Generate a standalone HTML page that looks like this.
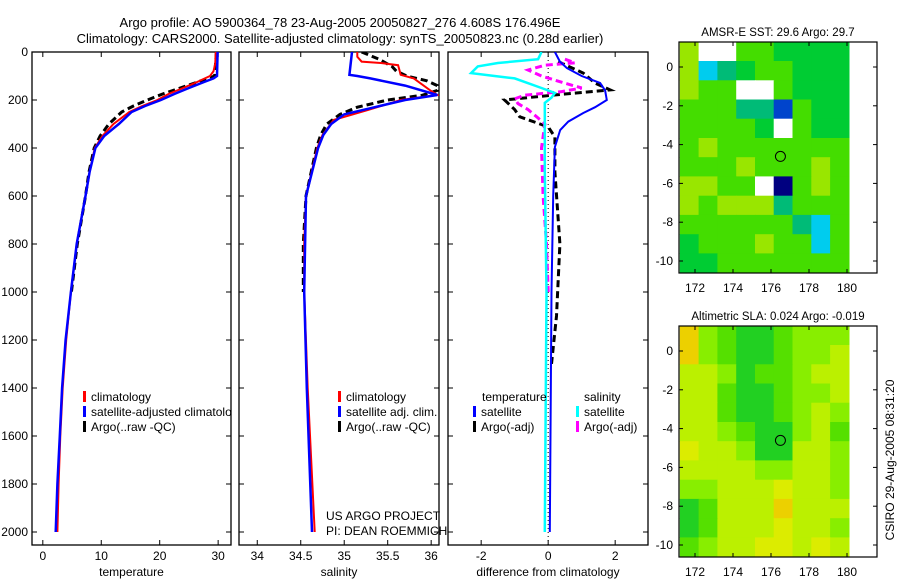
<!DOCTYPE html>
<html><head><meta charset="utf-8"><style>
html,body{margin:0;padding:0;background:#fff;}
svg{display:block;font-family:"Liberation Sans",sans-serif;font-size:12px;}
</style></head><body>
<svg id="fig" width="900" height="580" viewBox="0 0 900 580">
<defs>
<clipPath id="c1"><rect x="32" y="52" width="199" height="493"/></clipPath>
<clipPath id="c2"><rect x="239" y="52" width="200" height="493"/></clipPath>
<clipPath id="c3"><rect x="448" y="52" width="200" height="493"/></clipPath>
<clipPath id="cm1"><rect x="679" y="42" width="198" height="231"/></clipPath>
<clipPath id="cm2"><rect x="679" y="326" width="198" height="231"/></clipPath>
</defs>
<text x="340" y="27" text-anchor="middle" font-size="13">Argo profile: AO 5900364_78 23-Aug-2005 20050827_276 4.608S 176.496E</text>
<text x="340" y="43" text-anchor="middle" font-size="13">Climatology: CARS2000. Satellite-adjusted climatology: synTS_20050823.nc (0.28d earlier)</text>
<g id="p1"></g>
<g id="p2"></g>
<g id="p3"></g>
<g id="m1"></g>
<g id="m2"></g>
<text transform="translate(894,460) rotate(-90)" text-anchor="middle" font-size="12">CSIRO 29-Aug-2005 08:31:20</text>
</svg>
<script>
// ---- data ----
const tempClimDepth=[0,50,80,100,125,150,175,200,225,250,300,350,400,500,600,800,1000,1200,1400,1600,1800,2000];
const tempClim=[29.6,29.5,29.2,28.6,26.4,24,21.5,19.6,17,14.8,12.1,10.2,8.9,8.0,7.3,5.8,4.8,4.0,3.4,3.0,2.7,2.5];
const tempSatDepth=[0,100,110,125,150,175,200,225,250,300,350,400,500,600,800,1000,1200,1400,1600,1800,2000];
const tempSat=[29.9,29.8,29.2,27.6,25,22.5,20.2,17.5,15.2,13,10.5,9.0,8.0,7.3,5.8,4.8,3.9,3.3,2.9,2.5,2.2];
const tempArgoDepth=[0,100,125,150,175,200,225,250,300,350,400,500,600,800,1000];
const tempArgo=[29.7,29.4,26.5,23.5,20.5,17.9,15.5,13.5,11.3,9.8,8.8,7.9,7.3,5.9,4.9];
const salClimDepth=[0,20,40,46,55,95,110,160,179,200,242,283,346,400,600,800,1000,1400,1700,2000];
const salClim=[35.15,35.15,35.2,35.42,35.62,35.65,35.8,35.99,36.07,35.65,35.27,34.88,34.75,34.69,34.56,34.54,34.54,34.58,34.62,34.66];
const salSatDepth=[0,95,100,110,140,179,200,230,260,300,346,400,600,1000,1400,2000];
const salSat=[35.09,35.06,35.15,35.3,35.7,36.07,35.7,35.35,35.0,34.85,34.76,34.7,34.56,34.54,34.57,34.63];
const salArgoDepth=[0,30,60,80,100,120,140,160,180,200,230,260,300,346,400,600,800,1000];
const salArgo=[35.2,35.4,35.55,35.6,35.72,35.95,36.07,36.07,35.9,35.5,35.15,34.95,34.8,34.73,34.68,34.56,34.53,34.53];
const dTempSatDepth=[0,40,67,100,129,160,200,230,254,290,325,396,600,1000,2000];
const dTempSat=[0.2,0.35,0.56,1.0,1.55,1.7,1.75,1.4,1.05,0.6,0.36,0.2,0.15,0.1,0.05];
const dSalSatDepth=[0,30,46,60,88,100,110,130,150,171,190,212,300,500,1000,2000];
const dSalSat=[-0.2,-0.3,-1.5,-2.1,-2.3,-1.6,-1.0,-0.6,-0.2,0.2,0.1,-0.1,-0.1,-0.1,-0.05,-0.1];
const dTempArgoDepth=[40,88,130,158,175,190,200,240,270,312,354,500,800,1100,1300];
const dTempArgo=[0.3,1.05,1.4,1.85,0.5,-0.6,-1.3,-1.0,-0.85,0,0.2,0.2,0.35,0.25,0.1];
const dSalArgoDepth=[30,45,55,75,100,130,150,165,180,195,215,240,275,300,400,600,800,1000];
const dSalArgo=[0.5,0.8,-0.1,-0.6,-0.2,0.5,1.0,0.4,-0.7,-1.0,-0.9,-0.6,-0.3,-0.1,-0.2,-0.15,-0.05,0];
const depthTicks=[0,200,400,600,800,1000,1200,1400,1600,1800,2000];
const tempTicks=[0,10,20,30];
const salTicks=[34,34.5,35,35.5,36];
const diffTicks=[-2,0,2];
const latTicks=[0,-2,-4,-6,-8,-10];
const lonTicks=[172,174,176,178,180];
const sstGrid=[
[0,6,6,1,1,2,2,2,2],[0,4,3,2,1,1,2,2,2],[0,1,1,6,6,1,2,2,2],[1,1,1,3,3,5,1,2,2],
[1,1,1,1,2,6,1,2,2],[1,0,1,1,1,1,1,1,1],[1,1,1,0,1,1,1,0,1],[0,0,1,1,6,7,1,0,1],
[0,1,0,0,0,3,1,1,1],[1,1,1,1,1,1,3,4,1],[2,1,1,1,0,1,1,4,1],[2,2,1,1,1,1,1,1,1]];
const slaGrid=[
[5,2,3,4,4,3,2,2,2],[5,2,3,4,4,3,2,2,1],[1,1,2,4,3,3,2,1,1],[1,1,3,4,4,3,2,2,1],
[1,1,3,4,4,3,2,1,2],[1,1,2,3,4,4,2,1,3],[0,1,1,2,4,4,1,1,2],[1,1,1,1,2,2,1,1,2],
[2,2,1,1,1,0,1,1,2],[4,3,1,1,1,5,1,1,1],[4,3,1,1,1,0,1,1,2],[3,2,1,1,0,0,1,0,1]];
const argoLon=176.496, argoLat=-4.608;
const sstColors=['#99e600','#44dd00','#00cc33','#00bb77','#00ccee','#0044cc','#ffffff','#000080'];
const slaColors=['#dcec00','#bbf000','#88ee00','#55e000','#22d022','#ecd000'];

const NS='http://www.w3.org/2000/svg';
function mk(tag,attrs,parent,txt){const e=document.createElementNS(NS,tag);for(const k in attrs)e.setAttribute(k,attrs[k]);if(txt!==undefined)e.textContent=txt;parent.appendChild(e);return e;}
const Y=d=>52+d*0.24;
function panel(g,x0,x1,xmin,xmax,ticks,label,clip,showY){
  const X=v=>x0+(v-xmin)/(xmax-xmin)*(x1-x0);
  const fr=mk('rect',{x:x0,y:52,width:x1-x0,height:493,fill:'none',stroke:'#000','stroke-width':1.3},g);
  
  ticks.forEach(t=>{const x=X(t);
    mk('line',{x1:x,x2:x,y1:52,y2:57,stroke:'#000'},g);mk('line',{x1:x,x2:x,y1:545,y2:540,stroke:'#000'},g);
    const tl=mk('text',{x:x,y:560,'text-anchor':'middle'},g,String(t));
    });
  depthTicks.forEach(d=>{const y=Y(d);
    mk('line',{x1:x0,x2:x0+5,y1:y,y2:y,stroke:'#000'},g);mk('line',{x1:x1,x2:x1-5,y1:y,y2:y,stroke:'#000'},g);
    if(showY){const tl=mk('text',{x:28,y:y+4,'text-anchor':'end'},g,String(d));
      }});
  const al=mk('text',{x:(x0+x1)/2,y:576,'text-anchor':'middle'},g,label);
  
  return X;
}
function line(g,X,depth,vals,color,dash,w,name,clip){
  const p=depth.map((d,i)=>X(vals[i]).toFixed(1)+','+Y(d).toFixed(1)).join(' ');
  const e=mk('polyline',{points:p,fill:'none',stroke:color,'stroke-width':w,'clip-path':'url(#'+clip+')'},g);
  if(dash)e.setAttribute('stroke-dasharray',dash);
  
}
function legend(g,x,y,color,txt,clip){
  if(color){const r=mk('rect',{x:x,y:y-6,width:3,height:11,fill:color},g);
    }
  const t=mk('text',{x:x+(color?8:0),y:y+4,'clip-path':clip?'url(#'+clip+')':''},g,txt);
  
}
const g1=document.getElementById('p1');
const X1=panel(g1,32,231,-1.85,32.2,tempTicks,'temperature','c1',true);
line(g1,X1,tempArgoDepth,tempArgo,'#000','7,4',3,'argo-temperature-line','c1');
line(g1,X1,tempClimDepth,tempClim,'#ff0000',null,2,'climatology-temperature-line','c1');
line(g1,X1,tempSatDepth,tempSat,'#0000ff',null,2.5,'satellite-temperature-line','c1');
legend(g1,83,397,'#ff0000','climatology','c1');
legend(g1,83,412,'#0000ff','satellite-adjusted climatology','c1');
legend(g1,83,427,'#000','Argo(..raw -QC)','c1');
const g2=document.getElementById('p2');
const X2=panel(g2,239,439,33.79,36.09,salTicks,'salinity','c2',false);
line(g2,X2,salArgoDepth,salArgo,'#000','7,4',3,'argo-salinity-line','c2');
line(g2,X2,salClimDepth,salClim,'#ff0000',null,2,'climatology-salinity-line','c2');
line(g2,X2,salSatDepth,salSat,'#0000ff',null,2.5,'satellite-salinity-line','c2');
legend(g2,338,397,'#ff0000','climatology','c2');
legend(g2,338,412,'#0000ff','satellite adj. clim.','c2');
legend(g2,338,427,'#000','Argo(..raw -QC)','c2');
legend(g2,326,516,null,'US ARGO PROJECT');
legend(g2,326,531,null,'PI: DEAN ROEMMICH');
const g3=document.getElementById('p3');
const X3=panel(g3,448,648,-2.99,2.98,diffTicks,'difference from climatology','c3',false);
const zl=mk('line',{x1:X3(0),x2:X3(0),y1:52,y2:545,stroke:'#000','stroke-dasharray':'1,3'},g3);

line(g3,X3,dTempArgoDepth,dTempArgo,'#000','7,4',3,'argo-temperature-diff-line','c3');
line(g3,X3,dSalArgoDepth,dSalArgo,'#ff00ff','7,4',3,'argo-salinity-diff-line','c3');
line(g3,X3,dSalSatDepth,dSalSat,'#00ffff',null,2.5,'satellite-salinity-diff-line','c3');
line(g3,X3,dTempSatDepth,dTempSat,'#0000ff',null,2,'satellite-temperature-diff-line','c3');
legend(g3,482,397,null,'temperature');
legend(g3,584,397,null,'salinity');
legend(g3,473,412,'#0000ff','satellite');
legend(g3,576,412,'#00ffff','satellite');
legend(g3,473,427,'#000','Argo(-adj)');
legend(g3,576,427,'#ff00ff','Argo(-adj)');
function map(g,top,grid,colors,clip,title){
  const LX=lon=>695+(lon-172)*19, LY=lat=>top+25+(0-lat)*19.4;
  const lonW=(180.1-171.2)/9;
  grid.forEach((row,r)=>row.forEach((v,c)=>{
    const lo=171.2+c*lonW, la=1.3-r*(11.9/12);
    const e=mk('rect',{x:LX(lo).toFixed(1),y:LY(la).toFixed(1),width:(lonW*19+0.6).toFixed(1),height:(11.9/12*19.4+0.6).toFixed(1),fill:colors[v],'clip-path':'url(#'+clip+')'},g);
    }));
  const fr=mk('rect',{x:679,y:top,width:198,height:231,fill:'none',stroke:'#000','stroke-width':1.2},g);
  
  lonTicks.forEach(l=>{const x=LX(l);mk('line',{x1:x,x2:x,y1:top,y2:top+4,stroke:'#000'},g);mk('line',{x1:x,x2:x,y1:top+231,y2:top+227,stroke:'#000'},g);
    const t=mk('text',{x:x,y:top+250,'text-anchor':'middle'},g,String(l));});
  latTicks.forEach(l=>{const y=LY(l);mk('line',{x1:679,x2:683,y1:y,y2:y,stroke:'#000'},g);mk('line',{x1:877,x2:873,y1:y,y2:y,stroke:'#000'},g);
    const t=mk('text',{x:673,y:y+4,'text-anchor':'end'},g,String(l));});
  const c=mk('circle',{cx:LX(argoLon),cy:LY(argoLat),r:5,fill:'none',stroke:'#000'},g);
  
  const t=mk('text',{x:778,y:top-6,'text-anchor':'middle','font-size':'11.5'},g,title);
  
}
map(document.getElementById('m1'),42,sstGrid,sstColors,'cm1','AMSR-E SST: 29.6 Argo: 29.7');
map(document.getElementById('m2'),326,slaGrid,slaColors,'cm2','Altimetric SLA: 0.024 Argo: -0.019');
</script>
</body></html>
